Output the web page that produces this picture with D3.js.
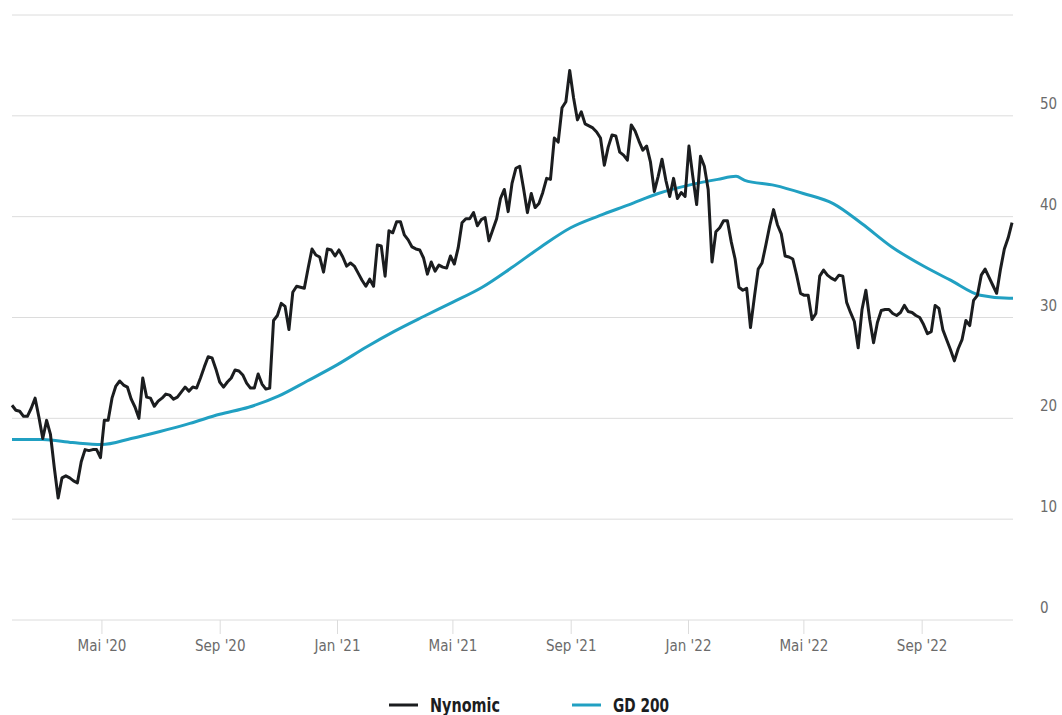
<!DOCTYPE html>
<html><head><meta charset="utf-8">
<script src="https://cdn.jsdelivr.net/npm/d3@7"></script>
<style>
html,body{margin:0;padding:0;background:#fff;}
svg text{font-family:"Liberation Sans Narrow","DejaVu Sans Condensed","Roboto Condensed","Open Sans Condensed",sans-serif;font-stretch:condensed;}
</style></head>
<body>
<svg id="chart" width="1062" height="715"></svg>
<script>
// ---- data ----
const seriesNames = ["Nynomic", "GD 200"];
const priceStart = "2020-01-29";
const priceStepDays = 4;
const priceValues = [
21.3,20.8,20.7,20.2,20.2,21.0,22.0,20.1,18.0,19.8,18.4,15.1,12.1,14.1,14.3,14.1,13.8,13.6,15.7,16.9,
16.8,16.9,16.9,16.1,19.8,19.8,22.0,23.2,23.7,23.3,23.1,21.9,21.1,20.0,24.0,22.1,22.0,21.2,21.7,22.0,
22.4,22.3,21.9,22.1,22.6,23.1,22.7,23.1,23.0,24.0,25.1,26.1,26.0,24.9,23.6,23.1,23.6,24.0,24.8,24.7,
24.3,23.5,23.0,23.0,24.4,23.4,22.9,23.0,29.7,30.2,31.4,31.1,28.8,32.5,33.1,33.0,32.9,34.9,36.8,36.2,
36.0,34.5,36.8,36.7,36.1,36.7,36.0,35.1,35.4,35.1,34.4,33.7,33.1,33.8,33.1,37.2,37.1,34.1,38.6,38.4,
39.5,39.5,38.2,37.7,37.0,36.8,36.7,35.9,34.3,35.5,34.6,35.2,35.0,34.9,36.1,35.3,36.9,39.4,39.8,39.8,
40.4,39.1,39.7,39.9,37.6,38.7,39.8,41.8,42.7,40.5,43.3,44.8,45.0,42.8,40.4,42.3,40.9,41.3,42.4,43.8,
43.7,47.8,47.4,50.8,51.4,54.5,51.8,49.6,50.4,49.2,49.0,48.8,48.4,47.8,45.1,46.9,48.1,48.0,46.4,46.1,
45.6,49.1,48.5,47.5,46.6,47.0,45.4,42.5,44.0,45.7,43.6,42.0,43.8,41.8,42.4,42.0,47.0,44.0,41.2,46.0,
45.0,42.7,35.5,38.5,38.9,39.6,39.6,37.5,35.8,33.0,32.7,32.9,29.0,32.0,34.8,35.4,37.2,39.1,40.7,39.2,
38.3,36.1,36.0,35.8,34.2,32.4,32.2,32.2,29.8,30.4,34.1,34.7,34.2,33.9,33.7,34.2,34.1,31.5,30.5,29.6,
27.0,30.8,32.7,29.8,27.5,29.5,30.7,30.8,30.8,30.4,30.2,30.5,31.2,30.6,30.5,30.2,30.0,29.3,28.4,28.6,
31.2,30.9,28.8,27.8,26.8,25.7,26.9,27.8,29.7,29.2,31.7,32.2,34.2,34.8,34.0,33.2,32.4,34.8,36.8,37.9,
39.4
];
const gdDates = ["2020-01-29","2020-03-01","2020-04-01","2020-05-01","2020-06-01","2020-07-01","2020-08-01",
"2020-09-01","2020-10-01","2020-11-01","2020-12-01","2021-01-01","2021-02-01","2021-03-01","2021-04-01",
"2021-05-01","2021-06-01","2021-07-01","2021-08-01","2021-09-01","2021-10-01","2021-11-01","2021-12-01",
"2022-01-01","2022-02-01","2022-02-20","2022-03-01","2022-04-01","2022-05-01","2022-06-01","2022-07-01",
"2022-08-01","2022-09-01","2022-10-01","2022-11-01","2022-12-01","2022-12-05"];
const gdValues = [17.9,17.9,17.6,17.4,18.0,18.7,19.5,20.4,21.1,22.2,23.7,25.3,27.1,28.6,30.1,
31.5,33.0,34.9,37.0,38.9,40.1,41.2,42.3,43.1,43.7,44.0,43.6,43.1,42.3,41.3,39.3,
37.0,35.2,33.7,32.2,31.9,31.9];
const yTicks = [0,10,20,30,40,50,60];
const yTickLabels = ["0","10","20","30","40","50",""];
const xTickDates = ["2020-05-01","2020-09-01","2021-01-01","2021-05-01","2021-09-01","2022-01-01","2022-05-01","2022-09-01"];
const xTickLabels = ["Mai '20","Sep '20","Jan '21","Mai '21","Sep '21","Jan '22","Mai '22","Sep '22"];
const colors = ["#1b1d1f", "#21a0c2"];

// ---- build ----
const parse = d3.timeParse("%Y-%m-%d");
const start = parse(priceStart);
const price = priceValues.map((v,i)=>({date:d3.timeDay.offset(start,i*priceStepDays), value:v}));
const gd = gdDates.map((d,i)=>({date:parse(d), value:gdValues[i]}));

const svg = d3.select("#chart");
const x = d3.scaleTime().domain([parse("2020-01-29"), parse("2022-12-05")]).range([12,1013]);
const y = d3.scaleLinear().domain([0,60]).range([620,15]);

// gridlines
svg.append("g").selectAll("line").data(yTicks).join("line")
  .attr("x1",12).attr("x2",1013)
  .attr("y1",d=>y(d)).attr("y2",d=>y(d))
  .attr("stroke","#dcdcdc").attr("stroke-width",1);

// y labels
svg.append("g").selectAll("text").data(yTicks).join("text")
  .attr("x",1040).attr("y",d=>y(d)-7)
  .attr("fill","#6b6b6b").attr("font-size",15)
  .text((d,i)=>yTickLabels[i]);

// x axis
const xAxis = d3.axisBottom(x)
  .tickValues(xTickDates.map(parse))
  .tickFormat((d,i)=>xTickLabels[i])
  .tickSize(14).tickPadding(6);
const gx = svg.append("g").attr("transform","translate(0,620)").call(xAxis);
gx.select(".domain").remove();
gx.selectAll(".tick line").attr("stroke","#dcdcdc");
gx.selectAll(".tick text").attr("fill","#6b6b6b").attr("font-size",15)
  .style("font-family",'"Liberation Sans Narrow","DejaVu Sans Condensed",sans-serif');

// lines
const line = d3.line().x(d=>x(d.date)).y(d=>y(d.value));
svg.append("path").datum(gd).attr("fill","none").attr("stroke",colors[1])
  .attr("stroke-width",3).attr("d", line.curve(d3.curveMonotoneX));
svg.append("path").datum(price).attr("fill","none").attr("stroke",colors[0])
  .attr("stroke-width",3).attr("stroke-linejoin","round")
  .attr("d", d3.line().x(d=>x(d.date)).y(d=>y(d.value)));

// legend
const legend = svg.append("g");
const legX = [389, 572];
const legW = [70, 56];
seriesNames.forEach((n,i)=>{
  legend.append("line").attr("x1",legX[i]).attr("x2",legX[i]+29)
    .attr("y1",705).attr("y2",705).attr("stroke",colors[i]).attr("stroke-width",3);
  legend.append("text").attr("x",legX[i]+41).attr("y",712)
    .attr("font-size",19).attr("font-weight","bold").attr("fill","#1b1d1f")
    .attr("textLength",legW[i]).attr("lengthAdjust","spacingAndGlyphs").text(n);
});
</script>
</body></html>
